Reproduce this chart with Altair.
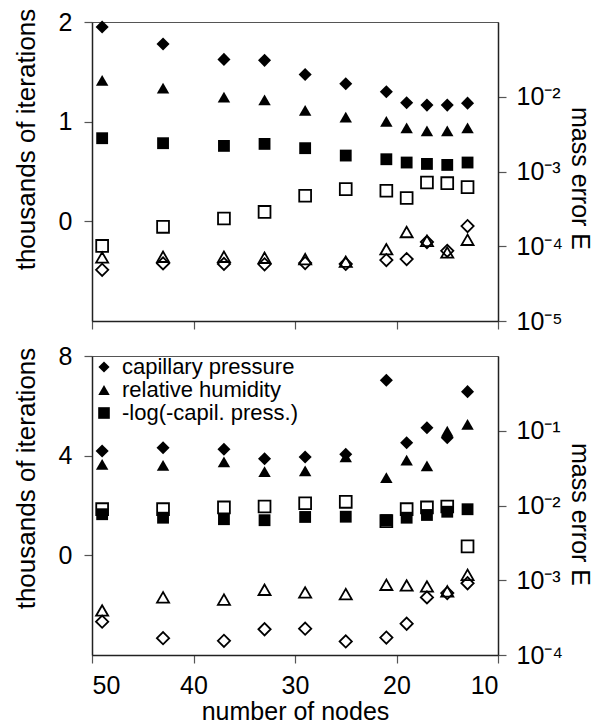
import altair as alt
import pandas as pd

nodes = [49, 43, 37, 33, 29, 25, 21, 19, 17, 15, 13]
series_names = ["capillary pressure", "relative humidity", "-log(-capil. press.)"]
series_shapes = ["diamond", "triangle-up", "square"]
filled_sizes = [170, 140, 90]
open_sizes = [150, 140, 80]
legend_sizes = [125, 135, 85]
legend_rows = [0, 1, 2]
x_ticks = [50, 40, 30, 20, 10]

# top panel - thousands of iterations (filled markers, left axis)
top_iter_cp = [1.95, 1.78, 1.625, 1.615, 1.474, 1.38, 1.30, 1.19, 1.166, 1.166, 1.186]
top_iter_rh = [1.414, 1.337, 1.246, 1.219, 1.113, 1.045, 1.002, 0.938, 0.908, 0.908, 0.938]
top_iter_lg = [0.834, 0.784, 0.757, 0.777, 0.734, 0.66, 0.623, 0.59, 0.576, 0.566, 0.59]
# top panel - mass error E (open markers, right log axis)
top_err_cp = [4.84e-5, 5.90e-5, 5.81e-5, 5.73e-5, 5.96e-5, 5.81e-5, 6.53e-5, 6.73e-5, 1.14e-4, 8.69e-5, 1.86e-4]
top_err_rh = [7.08e-5, 7.23e-5, 7.23e-5, 7.01e-5, 6.73e-5, 6.21e-5, 9.12e-5, 1.55e-4, 1.18e-4, 8.26e-5, 1.22e-4]
top_err_lg = [1.01e-4, 1.82e-4, 2.35e-4, 2.88e-4, 4.73e-4, 5.81e-4, 5.52e-4, 4.42e-4, 7.13e-4, 6.98e-4, 6.18e-4]

# bottom panel
bot_iter_cp = [4.19, 4.32, 4.26, 3.88, 3.95, 4.06, 7.03, 4.52, 5.12, 4.72, 6.57]
bot_iter_rh = [3.65, 3.61, 3.75, 3.36, 3.39, 3.95, 3.12, 3.82, 3.59, 4.98, 5.26]
bot_iter_lg = [1.65, 1.51, 1.45, 1.41, 1.54, 1.55, 1.41, 1.51, 1.62, 1.75, 1.85]
bot_err_cp = [2.79e-4, 1.68e-4, 1.55e-4, 2.21e-4, 2.25e-4, 1.52e-4, 1.71e-4, 2.62e-4, 5.90e-4, 6.73e-4, 9.12e-4]
bot_err_rh = [3.94e-4, 5.90e-4, 5.51e-4, 7.46e-4, 6.87e-4, 6.53e-4, 8.69e-4, 8.51e-4, 8.26e-4, 7.10e-4, 1.18e-3]
bot_err_lg = [8.93e-3, 8.93e-3, 9.42e-3, 9.70e-3, 1.07e-2, 1.12e-2, 6.17e-3, 8.93e-3, 9.42e-3, 9.70e-3, 2.84e-3]

top_left_ticks = [0, 1, 2]
top_left_domain = [-1, 2]
top_right_ticks = [1e-5, 1e-4, 1e-3, 1e-2]
top_right_domain = [1e-5, 1e-1]
bot_left_ticks = [0, 4, 8]
bot_left_domain = [-4, 8]
bot_right_ticks = [1e-4, 1e-3, 1e-2, 1e-1]
bot_right_domain = [1e-4, 1.0]

FONT = "Liberation Sans"
W, H = 406, 299

sup_expr = ("datum.value < 3e-5 ? '10\u207b\u2075' : datum.value < 3e-4 ? '10\u207b\u2074' : "
            "datum.value < 3e-3 ? '10\u207b\u00b3' : datum.value < 3e-2 ? '10\u207b\u00b2' : '10\u207b\u00b9'")


def long_df(lists, col):
    rows = []
    for name, vals in zip(series_names, lists):
        for n, v in zip(nodes, vals):
            rows.append({"nodes": n, "series": name, "kind": name, col: v})
    return pd.DataFrame(rows)


def shape_enc():
    return alt.Shape("series:N", scale=alt.Scale(domain=series_names, range=series_shapes), legend=None)


def panel(iters, errs, ldom, lticks, rdom, rticks, bottom, ltitle_y, rtitle_y):
    it_df = long_df(iters, "value")
    er_df = long_df(errs, "E")

    if bottom:
        x_axis = alt.Axis(values=x_ticks, title="number of nodes", labels=True, grid=False,
                          tickSize=8, labelPadding=10, titlePadding=1,
                          labelFontSize=25, titleFontSize=25)
    else:
        x_axis = alt.Axis(values=x_ticks, title=None, labels=False, tickSize=8, grid=False)
    x = alt.X("nodes:Q", scale=alt.Scale(domain=[50, 10], nice=False, zero=False), axis=x_axis)

    filled = alt.Chart(it_df).mark_point(filled=True, color="black", opacity=1).encode(
        x=x,
        y=alt.Y("value:Q",
                scale=alt.Scale(domain=ldom, nice=False, zero=False),
                axis=alt.Axis(orient="left", values=lticks, title="thousands of iterations", grid=False,
                              tickSize=8, labelPadding=12, labelFontSize=25,
                              titleFontSize=26, titleX=-66, titleY=ltitle_y,
                              titleBaseline="middle")),
        shape=shape_enc(),
        size=alt.Size("kind:N", scale=alt.Scale(domain=series_names, range=filled_sizes), legend=None),
    )

    opened = alt.Chart(er_df).mark_point(filled=False, color="black", opacity=1, strokeWidth=1.8).encode(
        x=x,
        y=alt.Y("E:Q",
                scale=alt.Scale(type="log", domain=rdom, nice=False),
                axis=alt.Axis(orient="right", values=rticks, title="mass error E", grid=False,
                              labelExpr=sup_expr, tickSize=8, labelPadding=10,
                              labelFontSize=25, titleFontSize=25, titleX=81, titleY=rtitle_y,
                              titleBaseline="middle")),
        shape=shape_enc(),
        size=alt.Size("kind:N", scale=alt.Scale(domain=series_names, range=open_sizes), legend=None),
    )

    layers = [opened, filled]

    if bottom:
        leg_df = pd.DataFrame({"series": series_names, "kind": series_names, "row": legend_rows})
        leg_y = alt.Y("row:Q", scale=alt.Scale(domain=[0, 2], range=[11, 57]), axis=None)
        leg_pts = alt.Chart(leg_df).mark_point(filled=True, color="black", opacity=1).encode(
            x=alt.value(12),
            y=leg_y,
            shape=shape_enc(),
            size=alt.Size("kind:N", scale=alt.Scale(domain=series_names, range=legend_sizes), legend=None),
        )
        leg_txt = alt.Chart(leg_df).mark_text(align="left", baseline="middle", font=FONT,
                                              fontSize=22, color="black").encode(
            x=alt.value(30),
            y=leg_y,
            text="series:N",
        )
        layers += [leg_pts, leg_txt]

    return alt.layer(*layers).resolve_scale(
        y="independent", size="independent", shape="independent"
    ).properties(width=W, height=H)


top = panel([top_iter_cp, top_iter_rh, top_iter_lg], [top_err_cp, top_err_rh, top_err_lg],
            top_left_domain, top_left_ticks, top_right_domain, top_right_ticks, False, 117, 156)
bot = panel([bot_iter_cp, bot_iter_rh, bot_iter_lg], [bot_err_cp, bot_err_rh, bot_err_lg],
            bot_left_domain, bot_left_ticks, bot_right_domain, bot_right_ticks, True, 122, 158)

chart = alt.vconcat(top, bot, spacing=8).resolve_scale(
    shape="independent", size="independent"
).properties(
    padding={"left": 4, "top": -1, "right": 6, "bottom": 0},
    background="white",
).configure_view(stroke="#555555", strokeWidth=1).configure_axis(
    grid=False, domainColor="#222222", domainWidth=1.5, tickColor="#555555", tickWidth=1.2,
    labelFont=FONT, titleFont=FONT, labelColor="black", titleColor="black",
    titleFontWeight="normal"
)

chart.save("out.html", embed_options={"renderer": "svg", "actions": False})
